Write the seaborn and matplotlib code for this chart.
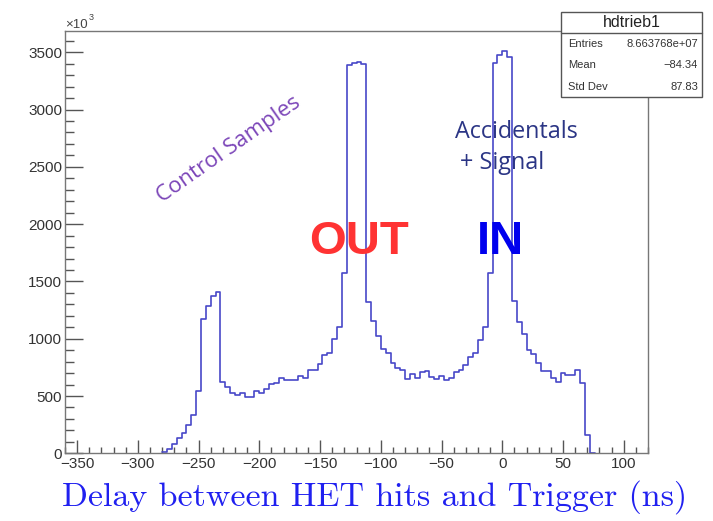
import numpy as np
import pandas as pd
import matplotlib
matplotlib.use("Agg")
import matplotlib.pyplot as plt
import seaborn as sns
from matplotlib.ticker import MultipleLocator
from matplotlib.patches import Rectangle
from matplotlib.lines import Line2D

# ---------------- data (counts in units of 10^3 per 4 ns bin) ----------------
bin_width = 4
first_edge = -280
counts_k = [
    8, 40, 85, 130, 175, 250, 330, 540,            # -280 .. -252
    1169, 1285, 1373, 1405,                          # -248 .. -236 (control peak)
    625, 581, 529, 509, 523, 494, 494, 544,          # -232 .. -204
    529, 558, 602, 611, 660, 640, 640, 640,          # -200 .. -172
    675, 660, 727, 727, 777, 858, 878, 995,          # -168 .. -140
    1105, 1571,                                      # -136, -132
    3388, 3403, 3417, 3397,                          # -128 .. -116 (OUT peak)
    1323, 1157, 1024, 908, 878, 785, 742, 727,       # -112 .. -84
    646, 692, 654, 712, 718, 669, 646, 675,          # -80 .. -52
    640, 654, 712, 727, 771, 838, 873, 989,          # -48 .. -20
    1105, 1576,                                      # -16, -12
    3403, 3476, 3513, 3461,                          # -8 .. 4 (IN peak)
    1326, 1149, 1040, 902, 867, 785, 721, 721,       # 8 .. 36
    654, 625, 698, 683, 683, 727, 611, 160,          # 40 .. 68
    0,                                               # 72 (empty)
]
x_ticks = [-350, -300, -250, -200, -150, -100, -50, 0, 50, 100]
y_ticks = [0, 500, 1000, 1500, 2000, 2500, 3000, 3500]
stats_labels = ["Entries", "Mean", "Std Dev"]
stats_values = ["8.663768e+07", "\u221284.34", "87.83"]

edges = first_edge + bin_width * np.arange(len(counts_k) + 1)
centers = edges[:-1] + bin_width / 2
df = pd.DataFrame({"delay": centers, "entries": counts_k})

# ---------------- figure ----------------
sns.set_style("white")
plt.rcParams["font.family"] = ["Liberation Sans", "DejaVu Sans"]
W, H = 713, 521
fig = plt.figure(figsize=(W / 100, H / 100), dpi=100)
L, R, T, B = 65, 648, 30.7, 453.3
ax = fig.add_axes([L / W, 1 - B / H, (R - L) / W, (B - T) / H])

sns.histplot(data=df, x="delay", weights="entries", binwidth=bin_width,
             binrange=(float(edges[0]), float(edges[-1])),
             element="step", fill=False, color="#4848c8", linewidth=1.2, ax=ax)

ax.set_xlim(-360, 120)
ax.set_ylim(0, 3688)
ax.set_xticks(x_ticks)
ax.set_yticks(y_ticks)
ax.xaxis.set_minor_locator(MultipleLocator(10))
ax.yaxis.set_minor_locator(MultipleLocator(100))
ax.tick_params(which="both", direction="in", bottom=True, left=True, top=False, right=False,
               color="#555555", labelcolor="#333333", labelsize=11, width=1)
ax.tick_params(axis="x", which="major", length=9.1, pad=3)
ax.tick_params(axis="x", which="minor", length=4.6)
ax.tick_params(axis="y", which="major", length=12.6, pad=2)
ax.tick_params(axis="y", which="minor", length=6.3)
for s in ax.spines.values():
    s.set_color("#777777")
    s.set_linewidth(1)
ax.set_xlabel("")
ax.set_ylabel("")

def fx(px):
    return px / W

def fy(py):
    return 1 - py / H

# x10^3 multiplier
fig.text(fx(65), fy(28), "\u00d710", fontsize=9.5, color="#444444", va="baseline")
fig.text(fx(88.5), fy(20), "3", fontsize=6.5, color="#444444", va="baseline")

# axis title
fig.text(fx(375), fy(497), "Delay between HET hits and Trigger (ns)",
         fontfamily="cmr10", fontsize=24.5, color="#2020f0", ha="center", va="center")

# annotations
fig.text(fx(229), fy(150), "Control Samples", fontfamily="Open Sans", fontsize=16,
         color="#7b45b8", rotation=35, ha="center", va="center",
         rotation_mode="anchor")
fig.text(fx(455), fy(132), "Accidentals", fontfamily="Open Sans", fontsize=16.8,
         color="#2b3585", ha="left", va="center")
fig.text(fx(460), fy(163), "+ Signal", fontfamily="Open Sans", fontsize=16.8,
         color="#2b3585", ha="left", va="center")
fig.text(fx(359), fy(242), "OUT", fontweight="bold", fontsize=34,
         color="#ff3333", ha="center", va="center")
fig.text(fx(500), fy(242), "IN", fontweight="bold", fontsize=34,
         color="#0000ee", ha="center", va="center")

# stats box
bx0, bx1, by0, by1, bdiv = 561, 701.7, 11.7, 96.7, 33.3
fig.patches.append(Rectangle((fx(bx0), fy(by1)), fx(bx1) - fx(bx0), fy(by0) - fy(by1),
                             transform=fig.transFigure, facecolor="white",
                             edgecolor="#555555", linewidth=1, zorder=5))
fig.lines.append(Line2D([fx(bx0), fx(bx1)], [fy(bdiv), fy(bdiv)],
                        transform=fig.transFigure, color="#555555", linewidth=1, zorder=6))
fig.text(fx((bx0 + bx1) / 2), fy(22.5), "hdtrieb1", fontsize=11.5, color="#222222",
         ha="center", va="center", zorder=7)
for i, (lab, val) in enumerate(zip(stats_labels, stats_values)):
    yy = fy(44 + 21.5 * i)
    fig.text(fx(568), yy, lab, fontsize=8, color="#333333", ha="left", va="center", zorder=7)
    fig.text(fx(698), yy, val, fontsize=8, color="#333333", ha="right", va="center", zorder=7)

fig.savefig("out.png", dpi=100)
